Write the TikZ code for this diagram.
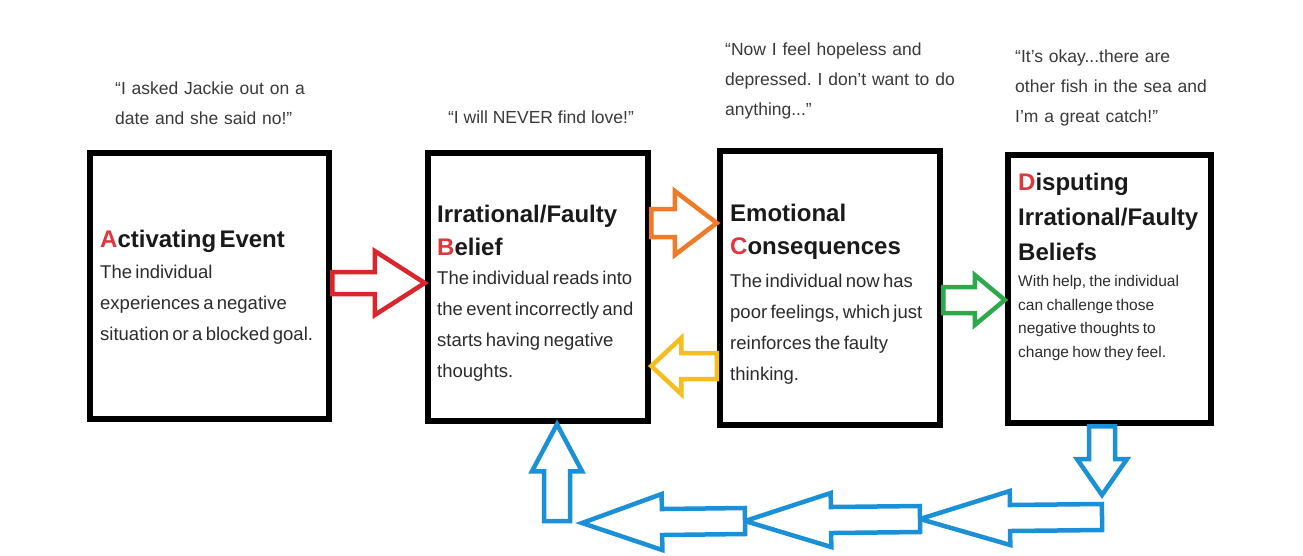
\documentclass[tikz,border=0pt]{standalone}
\usepackage{fontspec}
\setmainfont{Liberation Sans}
\usetikzlibrary{calc}
\frenchspacing

\definecolor{arrowred}{HTML}{D9262C}
\definecolor{arroworange}{HTML}{F07A28}
\definecolor{arrowyellow}{HTML}{F3BE1E}
\definecolor{arrowgreen}{HTML}{2CA94A}
\definecolor{arrowblue}{HTML}{1C90D6}
\definecolor{letterred}{HTML}{E0363C}
\definecolor{quotegray}{HTML}{3A3A3A}
\definecolor{bodygray}{HTML}{2C2C2C}
\definecolor{titleblack}{HTML}{1A1A1A}

% text styles of the stage boxes
\newcommand\titlefont{\bfseries\fontsize{24}{33}\selectfont\color{titleblack}}
\newcommand\dtitlefont{\bfseries\fontsize{24}{35}\selectfont\color{titleblack}}
\newcommand\bodyfont{\fontsize{18.5}{31}\selectfont\color{bodygray}}
\newcommand\smallbodyfont{\fontsize{15.5}{23.5}\selectfont\color{bodygray}}
\newcommand\quotefont{\fontsize{17.5}{30}\selectfont\color{quotegray}}

% outlined block arrow: #1 colour, #2 tail, #3 tip,
% #4 shaft half-width, #5 head half-width, #6 head length
\newcommand\blockarrow[6]{%
  \coordinate (ba-base) at ($(#3)!#6!(#2)$);
  \draw[blockarr,draw=#1]
    ($(#2)!#4!90:(#3)$) -- ($(ba-base)!#4!90:(#3)$) --
    ($(ba-base)!#5!90:(#3)$) -- (#3) --
    ($(ba-base)!#5!-90:(#3)$) -- ($(ba-base)!#4!-90:(#3)$) --
    ($(#2)!#4!-90:(#3)$) -- cycle;
}

\begin{document}
\begin{tikzpicture}[x=1pt,y=-1pt,
  stagebox/.style={draw=black, line width=6.5pt, inner sep=0pt},
  blockarr/.style={line width=4.5pt, fill=white, line join=miter},
  boxtext/.style={inner sep=0pt, anchor=base west, text width=300pt, align=left},
  quotetext/.style={inner sep=0pt, anchor=base west, text width=300pt, align=left, font=\quotefont},
]
\useasboundingbox[fill=white] (0,0) rectangle (1303,555);

% the four stages
\node[stagebox, minimum width=239pt, minimum height=266pt] (A) at (209.5,286) {};
\node[stagebox, minimum width=220pt, minimum height=268pt] (B) at (538,287) {};
\node[stagebox, minimum width=220pt, minimum height=274pt] (C) at (830,288) {};
\node[stagebox, minimum width=203pt, minimum height=268pt] (D) at (1109.5,289) {};

% stage texts
\node[boxtext] (ta) at (100,247) {%
  {\titlefont\textcolor{letterred}{A}ctivating Event\par}
  {\bodyfont The individual\\experiences a negative\\situation or a blocked goal.\par}};
\node[boxtext] (tb) at (437,222) {%
  {\titlefont Irrational/Faulty\\\textcolor{letterred}{B}elief\par}\vskip-2pt
  {\bodyfont The individual reads into\\the event incorrectly and\\starts having negative\\thoughts.\par}};
\node[boxtext] (tc) at (730,221) {%
  {\titlefont Emotional\\\textcolor{letterred}{C}onsequences\par}\vskip2pt
  {\bodyfont The individual now has\\poor feelings, which just\\reinforces the faulty\\thinking.\par}};
\node[boxtext] (td) at (1018,190) {%
  {\dtitlefont\textcolor{letterred}{D}isputing\\Irrational/Faulty\\Beliefs\par}\vskip3pt
  {\smallbodyfont With help, the individual\\can challenge those\\negative thoughts to\\change how they feel.\par}};

% quotes above the stages
\node[quotetext] (qa) at (115,94) {``I asked Jackie out on a\\date and she said no!''};
\node[inner sep=0pt, anchor=base, font=\quotefont] (qb) at (541,123) {``I will NEVER find love!''};
\node[quotetext] (qc) at (725,55) {``Now I feel hopeless and\\depressed. I don't want to do\\anything...''};
\node[quotetext] (qd) at (1015,62) {``It's okay...there are\\other fish in the sea and\\I'm a great catch!''};

% arrow end points on the stage borders
\coordinate (ab0) at ([yshift=3pt]A.east);
\coordinate (ab1) at ([yshift=4pt]B.west);
\coordinate (bc0) at ([yshift=64pt]B.east);
\coordinate (bc1) at ([yshift=65pt]C.west);
\coordinate (cb0) at ([yshift=-78pt]C.west);
\coordinate (cb1) at ([yshift=-79pt]B.east);
\coordinate (cd0) at ([yshift=-12pt]C.east);
\coordinate (cd1) at ([yshift=-11pt]D.west);
\coordinate (dd0) at ([xshift=-7.5pt]D.south);
\coordinate (bu1) at ([xshift=19pt]B.south);

% turning points of the loop back from D to B
\coordinate (dn) at (1102,495);
\coordinate (l3) at (1102,517);
\coordinate (l2) at (920,519);
\coordinate (l1) at (745,521);
\coordinate (l0) at (582,523);
\coordinate (up) at (557,521);

\blockarrow{arrowred}{ab0}{ab1}{11pt}{32pt}{50pt}
\blockarrow{arroworange}{bc0}{bc1}{14pt}{32pt}{42pt}
\blockarrow{arrowyellow}{cb0}{cb1}{13pt}{28pt}{30pt}
\blockarrow{arrowgreen}{cd0}{cd1}{13pt}{25pt}{30pt}
\blockarrow{arrowblue}{dd0}{dn}{13pt}{25pt}{36pt}
\blockarrow{arrowblue}{l3}{l2}{13pt}{27pt}{90pt}
\blockarrow{arrowblue}{l2}{l1}{13pt}{27pt}{86pt}
\blockarrow{arrowblue}{l1}{l0}{13pt}{28pt}{80pt}
\blockarrow{arrowblue}{up}{bu1}{13pt}{25pt}{47pt}
\end{tikzpicture}
\end{document}
